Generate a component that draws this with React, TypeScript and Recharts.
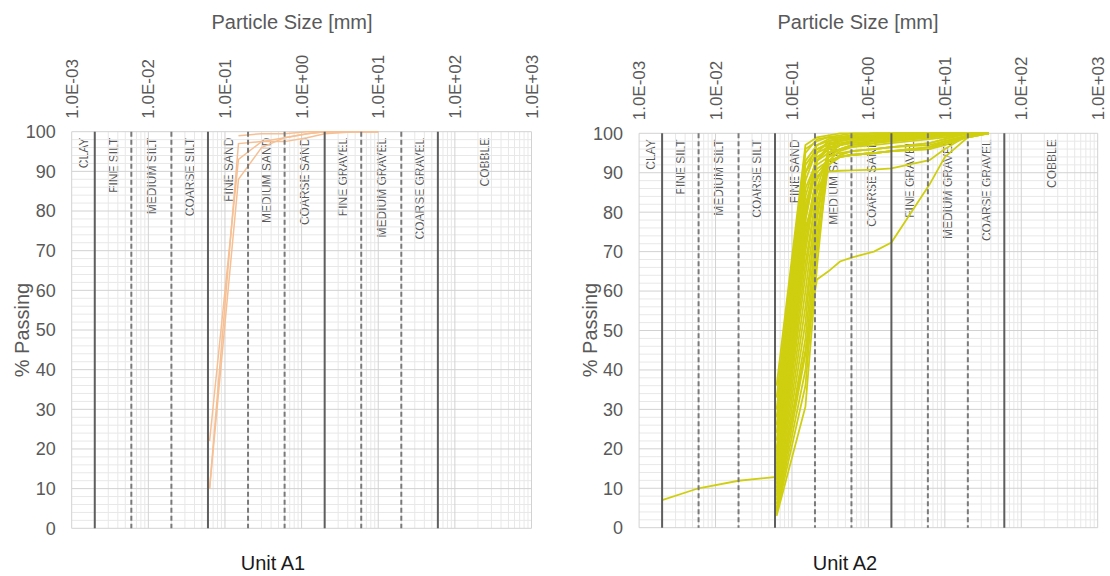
import React from 'react';
import { LineChart, Line, XAxis, YAxis, ReferenceLine, ReferenceArea } from 'recharts';

// ---- axis ticks & soil classification zones ----
const decadeTicks = [0.001, 0.01, 0.1, 1, 10, 100, 1000];
const decadeLabels = ['1.0E-03', '1.0E-02', '1.0E-01', '1.0E+00', '1.0E+01', '1.0E+02', '1.0E+03'];
const percentTicks = [0, 10, 20, 30, 40, 50, 60, 70, 80, 90, 100];
const solidBoundaries = [0.002, 0.06, 2, 60];
const dashedBoundaries = [0.006, 0.02, 0.2, 0.6, 6, 20];
const zoneEdges = [0.001, 0.002, 0.006, 0.02, 0.06, 0.2, 0.6, 2, 6, 20, 60, 1000];
const zoneNames = [
  'CLAY', 'FINE SILT', 'MEDIUM SILT', 'COARSE SILT', 'FINE SAND', 'MEDIUM SAND',
  'COARSE SAND', 'FINE GRAVEL', 'MEDIUM GRAVEL', 'COARSE GRAVEL', 'COBBLE',
];

// ---- Unit A1: sieve sizes (mm) and % passing per sample ----
const a1Sizes = [0.063, 0.15, 0.3, 0.6, 1.18, 2, 5, 10];
const a1Passing: (number | null)[][] = [
  [10, 97, 97.5, 97.5, 98.5, 99.5, 100, 100],
  [10, 88, 96, 98.5, 99.5, 100, 100, 100],
  [22, 93, 97.5, 98.5, 99.5, 100, 100, 100],
  [null, 99, 99.5, 99.5, 100, 100, 100, 100],
];

// ---- Unit A2: sieve / hydrometer sizes (mm) and % passing per sample ----
const a2Sizes = [0.002, 0.006, 0.02, 0.063, 0.15, 0.212, 0.3, 0.425, 0.6, 1.18, 2, 6.3, 10, 20, 37.5];
const a2Passing: (number | null)[][] = [
  [7, 10, 11.9, 12.9, 78, 93, 97, 98, 98.5, 99, 99.5, 100, 100, 100, 100],
  [null, null, null, 36, 97, 99, 99.5, 100, 100, 100, 100, 100, 100, 100, 100],
  [null, null, null, 33, 96, 98, 99, 99.5, 100, 100, 100, 100, 100, 100, 100],
  [null, null, null, 30, 95, 98.5, 99, 99, 99.5, 100, 100, 100, 100, 100, 100],
  [null, null, null, 28, 93, 97, 98, 98.5, 99, 99, 99.5, 100, 100, 100, 100],
  [null, null, null, 26, 92, 96, 97, 97.5, 98, 98.5, 99, 99.5, 100, 100, 100],
  [null, null, null, 24, 90, 95, 96.5, 97, 97.5, 98, 98.5, 99, 99.5, 100, 100],
  [null, null, null, 22, 88, 96, 97.5, 98, 98.5, 99, 99, 99.5, 100, 100, 100],
  [null, null, null, 20, 86, 93, 95, 96, 96.5, 97, 97.5, 98.5, 99, 100, 100],
  [null, null, null, 19, 84, 94, 96, 97, 97.5, 98, 98, 99, 99.5, 100, 100],
  [null, null, null, 17, 82, 92, 94, 95, 95.5, 96, 96.5, 97.5, 98.5, 100, 100],
  [null, null, null, 16, 80, 91, 93, 94, 94.5, 95, 95.5, 96.5, 98, 99.5, 100],
  [null, null, null, 15, 76, 86, 90.3, 90.5, 90.6, 90.8, 91.1, 93.2, 96, 99.5, 100],
  [null, null, null, 14, 78, 93, 96, 97, 98, 98.5, 99, 99.5, 100, 100, 100],
  [null, null, null, 13, 74, 90, 93, 94, 94.5, 95, 95.5, 96, 97, 99, 100],
  [null, null, null, 12, 72, 89, 92, 94, 94.5, 95, 95.5, 96, 97.5, 99, 100],
  [null, null, null, 11, 70, 88, 94, 96, 97, 98, 98.5, 99, 100, 100, 100],
  [null, null, null, 10, 67, 85, 92, 94, 94.5, 95, 95.5, 96.5, 97.5, 99.5, 100],
  [null, null, null, 9, 64, 86, 95, 97, 98, 99, 99.5, 100, 100, 100, 100],
  [null, null, null, 8, 60, 83, 92, 94.5, 95.5, 96, 96.5, 97, 98, 99.5, 100],
  [null, null, null, 8, 45, 62.9, 65, 67.5, 68.5, 70, 72.3, 87, 94, 99, 100],
  [null, null, null, 7, 56, 80, 94, 96, 97, 97.5, 98, 99, 99.5, 100, 100],
  [null, null, null, 6, 52, 82, 96, 98, 99, 99.5, 100, 100, 100, 100, 100],
  [null, null, null, 5, 48, 78, 95, 97, 98, 98.5, 99, 99.5, 100, 100, 100],
  [null, null, null, 4.5, 44, 75, 93, 95.5, 96.5, 97.5, 98, 99, 99.5, 100, 100],
  [null, null, null, 4, 40, 72, 97, 98.5, 99, 99.5, 100, 100, 100, 100, 100],
  [null, null, null, 3.5, 36, 70, 92, 94.5, 95.5, 96, 96.5, 97.5, 98.5, 100, 100],
  [null, null, null, 3, 30.7, 66, 95, 97, 98, 98.5, 99, 99.5, 100, 100, 100],
  [null, null, null, 13, 80, 95, 98, 99, 99.5, 100, 100, 100, 100, 100, 100],
  [null, null, null, 18, 90, 97, 98.5, 99, 99, 99.5, 99.5, 100, 100, 100, 100],
];

// light log-scale grid: 2..9 within every decade
const minorSizes: number[] = [];
decadeTicks.slice(0, -1).forEach((d) => {
  for (let m = 2; m <= 9; m++) minorSizes.push(+(d * m).toPrecision(3));
});
const minorPercents: number[] = [];
for (let p = 2; p < 100; p += 2) if (p % 10 !== 0) minorPercents.push(p);

const FONT = '"Liberation Sans", Arial, sans-serif';
const GREY = '#595959';

type PanelProps = {
  left: number;
  width: number;
  margin: { top: number; right: number; bottom: number; left: number };
  sizes: number[];
  passing: (number | null)[][];
  color: string;
  lineWidth: number;
};

const ZoneLabel = (props: any) => {
  const vb = props.viewBox || {};
  const cx = vb.x + vb.width / 2 + 4.5;
  return (
    <text
      transform={`translate(${cx},${vb.y + 6}) rotate(-90)`}
      textAnchor="end"
      fontSize={12}
      fill={GREY}
      fontFamily={FONT}
    >
      {props.name}
    </text>
  );
};

const Panel = ({ left, width, margin, sizes, passing, color, lineWidth }: PanelProps) => {
  const plotTop = margin.top + 60;
  const XTick = (p: any) => {
    const i = decadeTicks.indexOf(p.payload.value);
    return (
      <text
        transform={`translate(${p.x + 6},${plotTop - 13}) rotate(-90)`}
        textAnchor="start"
        fontSize={17}
        fill={GREY}
        fontFamily={FONT}
      >
        {decadeLabels[i]}
      </text>
    );
  };
  return (
    <div style={{ position: 'absolute', left, top: 0 }}>
      <LineChart width={width} height={576} margin={margin}>
        <XAxis
          dataKey="d"
          type="number"
          scale="log"
          domain={[0.001, 1000]}
          allowDataOverflow
          ticks={decadeTicks}
          orientation="top"
          height={60}
          axisLine={false}
          tickLine={false}
          tick={XTick}
          interval={0}
        />
        <YAxis
          type="number"
          domain={[0, 100]}
          ticks={percentTicks}
          width={50}
          axisLine={false}
          tickLine={false}
          tickSize={0}
          tickMargin={16}
          interval={0}
          tick={{ fontSize: 18, fill: GREY, fontFamily: FONT }}
        />
        {minorSizes.map((v) => (
          <ReferenceLine key={`mx${v}`} x={v} stroke="#e8e8e8" strokeWidth={1} />
        ))}
        {minorPercents.map((v) => (
          <ReferenceLine key={`my${v}`} y={v} stroke="#e8e8e8" strokeWidth={1} />
        ))}
        {decadeTicks.map((v) => (
          <ReferenceLine key={`Mx${v}`} x={v} stroke="#d2d2d2" strokeWidth={1} />
        ))}
        {percentTicks.map((v) => (
          <ReferenceLine key={`My${v}`} y={v} stroke="#d2d2d2" strokeWidth={1} />
        ))}
        {zoneNames.map((name, i) => (
          <ReferenceArea
            key={name}
            x1={zoneEdges[i]}
            x2={zoneEdges[i + 1]}
            y1={0}
            y2={100}
            fill="none"
            fillOpacity={0}
            stroke="none"
            label={<ZoneLabel name={name} />}
          />
        ))}
        {passing.map((row, r) => (
          <Line
            key={`s${r}`}
            data={sizes.map((d, i) => ({ d, p: row[i] })).filter((pt) => pt.p !== null)}
            dataKey="p"
            type="linear"
            stroke={color}
            strokeWidth={lineWidth}
            dot={false}
            activeDot={false}
            isAnimationActive={false}
          />
        ))}
        {dashedBoundaries.map((v) => (
          <ReferenceLine key={`db${v}`} x={v} stroke="#7a7a7a" strokeWidth={2} strokeDasharray="5 3" />
        ))}
        {solidBoundaries.map((v) => (
          <ReferenceLine key={`sb${v}`} x={v} stroke="#5e5e5e" strokeWidth={2} />
        ))}
      </LineChart>
    </div>
  );
};

export default function App() {
  return (
    <div
      style={{
        position: 'absolute',
        left: 0,
        top: 0,
        width: 1110,
        height: 576,
        background: '#ffffff',
        overflow: 'hidden',
      }}
    >
      <Panel
        left={0}
        width={560}
        margin={{ top: 71.7, right: 28.5, bottom: 47.7, left: 21.7 }}
        sizes={a1Sizes}
        passing={a1Passing}
        color="#F6C094"
        lineWidth={1.5}
      />
      <Panel
        left={560}
        width={550}
        margin={{ top: 73.3, right: 12.3, bottom: 48.3, left: 29.1 }}
        sizes={a2Sizes}
        passing={a2Passing}
        color="#CFCF10"
        lineWidth={1.8}
      />
      <svg
        width={1110}
        height={576}
        style={{ position: 'absolute', left: 0, top: 0, pointerEvents: 'none' }}
        fontFamily={FONT}
      >
        <text x={292} y={29} textAnchor="middle" fontSize={20} fill={GREY}>
          Particle Size [mm]
        </text>
        <text x={858} y={29} textAnchor="middle" fontSize={20} fill={GREY}>
          Particle Size [mm]
        </text>
        <text transform="translate(29,330) rotate(-90)" textAnchor="middle" fontSize={20} fill={GREY}>
          % Passing
        </text>
        <text transform="translate(597,330) rotate(-90)" textAnchor="middle" fontSize={20} fill={GREY}>
          % Passing
        </text>
        <text x={273} y={570} textAnchor="middle" fontSize={20} fill="#1a1a1a">
          Unit A1
        </text>
        <text x={845} y={570} textAnchor="middle" fontSize={20} fill="#1a1a1a">
          Unit A2
        </text>
      </svg>
    </div>
  );
}
